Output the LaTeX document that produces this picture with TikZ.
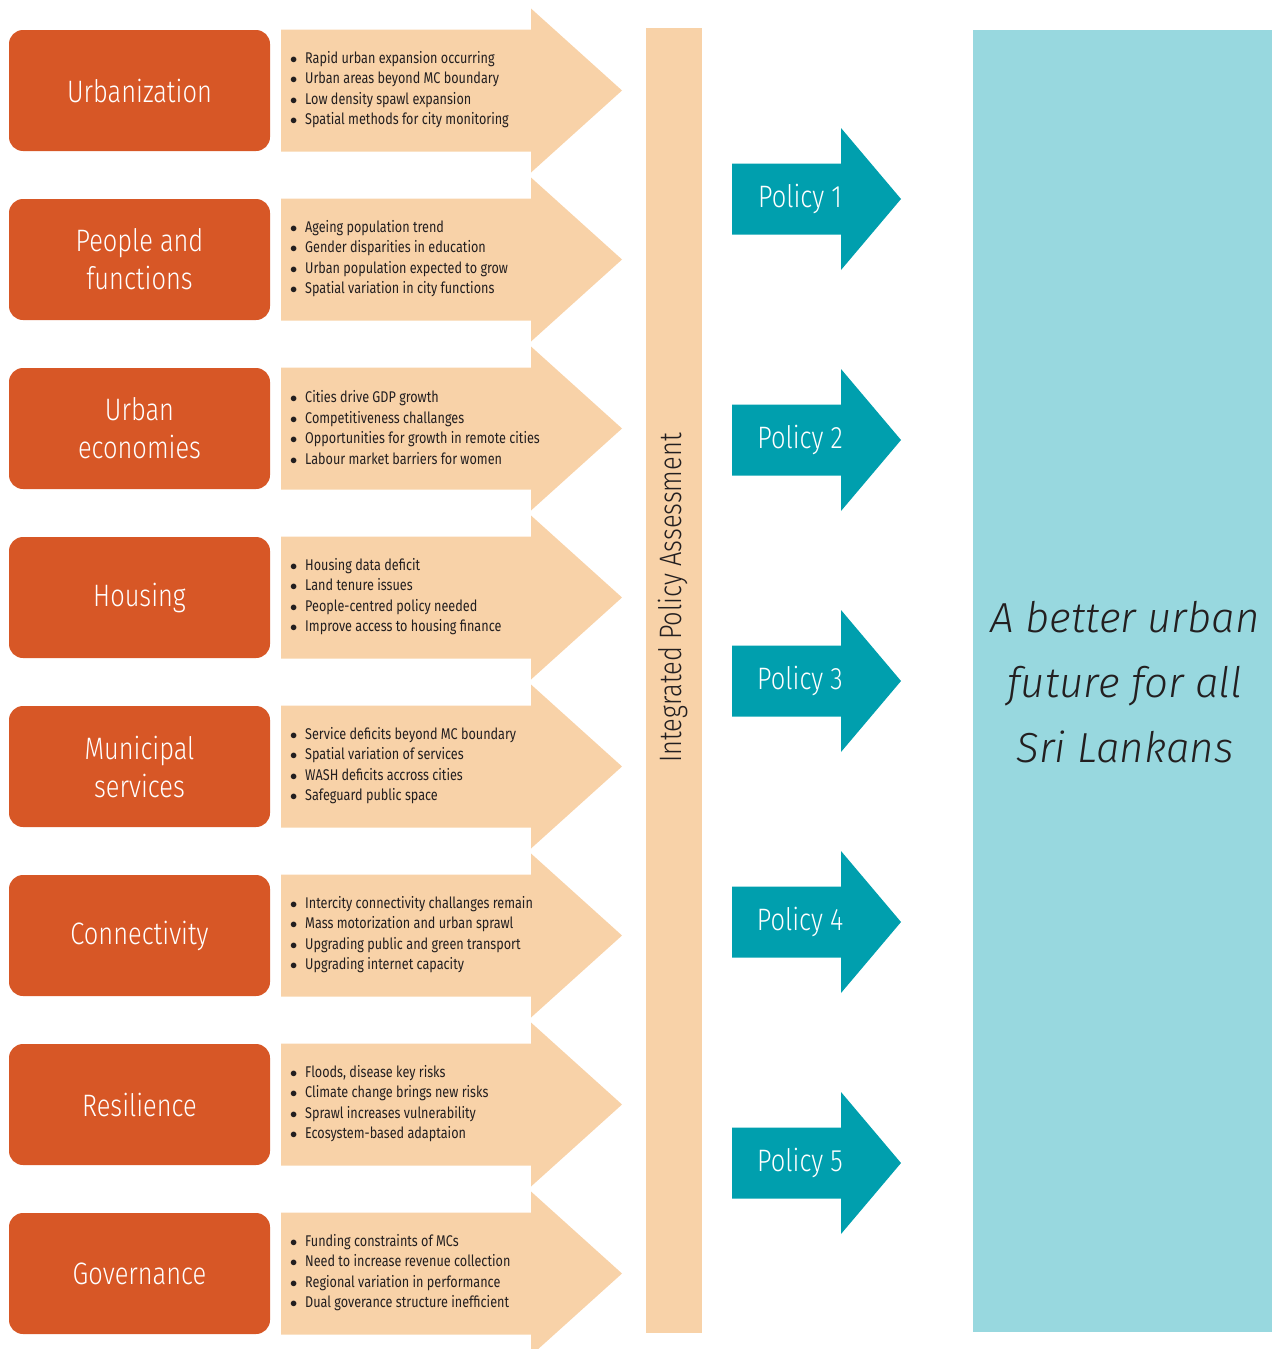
\documentclass[tikz,border=0pt]{standalone}
\usepackage{fontspec}
\setmainfont{Fira Sans}[UprightFont={* Light},ItalicFont={* Light Italic}]
\newfontfamily\condfont{Fira Sans}[UprightFont={* Light},FakeStretch=0.82]
\newfontfamily\listfont{Fira Sans}[FakeStretch=0.815]
\usetikzlibrary{positioning,calc}
\definecolor{cOr}{HTML}{D75726}
\definecolor{cPe}{HTML}{F8D2A8}
\definecolor{cTe}{HTML}{009FAE}
\definecolor{cSk}{HTML}{98D8DF}
\definecolor{cTx}{HTML}{231F20}
\tikzset{
  topic/.style={rounded corners=14pt,fill=cOr,text=white,minimum width=261pt,
                minimum height=121pt,align=center,inner sep=0pt,
                font=\condfont\fontsize{31}{38}\selectfont},
  issues/.style={anchor=west,align=left,inner sep=0pt,text=cTx,
                 font=\listfont\fontsize{15.5}{20.5}\selectfont},
  policy/.style={text=white,inner sep=0pt,font=\condfont\fontsize{31}{36}\selectfont},
  peach/.style={fill=cPe},
  teal/.style={fill=cTe},
}
\newcommand{\bl}{\makebox[15pt][l]{$\bullet$}}

\begin{document}
\begin{tikzpicture}[x=1pt,y=-1pt]
  \useasboundingbox (0,0) rectangle (1272,1349);
  % left column: topics and their issues
  \foreach \name/\txt/\a/\b/\c/\d [count=\i from 0] in {
    urb/Urbanization/Rapid urban expansion occurring/Urban areas beyond MC boundary/Low density spawl expansion/Spatial methods for city monitoring,
    peo/{People and\\ functions}/Ageing population trend/Gender disparities in education/Urban population expected to grow/Spatial variation in city functions,
    eco/{Urban\\ economies}/Cities drive GDP growth/Competitiveness challanges/Opportunities for growth in remote cities/Labour market barriers for women,
    hou/Housing/Housing data deficit/Land tenure issues/People-centred policy needed/Improve access to housing finance,
    mun/{Municipal\\ services}/Service deficits beyond MC boundary/Spatial variation of services/WASH deficits accross cities/Safeguard public space,
    con/Connectivity/Intercity connectivity challanges remain/Mass motorization and urban sprawl/Upgrading public and green transport/Upgrading internet capacity,
    res/Resilience/{Floods, disease key risks}/Climate change brings new risks/Sprawl increases vulnerability/Ecosystem-based adaptaion,
    gov/Governance/Funding constraints of MCs/Need to increase revenue collection/Regional variation in performance/Dual goverance structure inefficient}{
    \pgfmathsetmacro{\yc}{90.5+169*\i}
    \fill[peach] (281,\yc-61) -- (531,\yc-61) -- (531,\yc-82) -- (622,\yc)
      -- (531,\yc+82) -- (531,\yc+61) -- (281,\yc+61) -- cycle;
    \node[topic] (\name) at (139.5,\yc) {\txt};
    \node[issues] (\name-l) at (290,\yc-1) {\bl\a\\ \bl\b\\ \bl\c\\ \bl\d};
  }
  % assessment bar
  \fill[peach] (646,28) rectangle (702,1333);
  \node[rotate=90,text=cTx,inner sep=0pt,font=\condfont\fontsize{31}{36}\selectfont]
    (ipa) at (673,598) {Integrated Policy Assessment};
  % policies
  \foreach \j in {1,...,5}{
    \pgfmathsetmacro{\yp}{199+241*(\j-1)}
    \fill[teal] (732,\yp-35.5) -- (841,\yp-35.5) -- (841,\yp-71) -- (901,\yp)
      -- (841,\yp+71) -- (841,\yp+35.5) -- (732,\yp+35.5) -- cycle;
    \node[policy] (p\j) at (800,\yp) {Policy \j};
  }
  % goal
  \fill[cSk] (973,30) rectangle (1272,1332);
  \node[align=center,text=cTx,inner sep=0pt,font=\itshape\fontsize{42}{65}\selectfont]
    (goal) at (1125,682) {A better urban\\ future for all\\ Sri Lankans};
\end{tikzpicture}
\end{document}
